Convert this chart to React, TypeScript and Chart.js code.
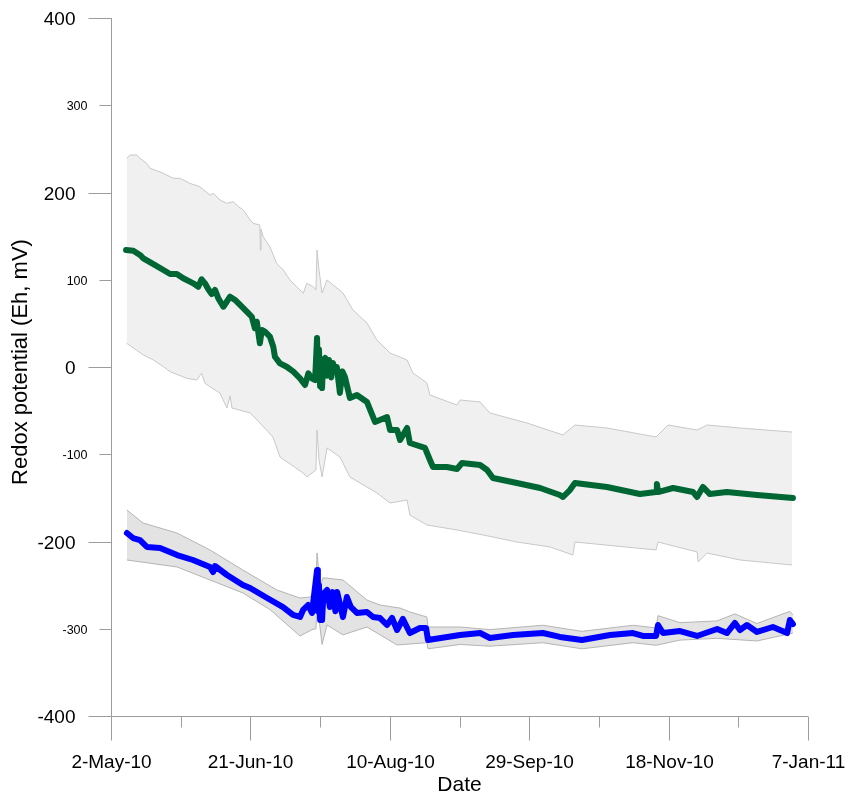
import React, { useEffect, useRef } from "react";
import { Chart, registerables } from "chart.js";

Chart.register(...registerables);

// ---- Axis ticks ----
const xMajorTicks = [0, 50, 100, 150, 200, 250];
const xTickLabels = ["2-May-10", "21-Jun-10", "10-Aug-10", "29-Sep-10", "18-Nov-10", "7-Jan-11"];
const xMinorTicks = [25, 75, 125, 175, 225];
const yMajorTicks = [-400, -200, 0, 200, 400];
const yMinorTicks = [-300, -100, 100, 300];

// ---- Upper station (green) : days since 2-May-10 ----
const greenDays = [5.4, 8.0, 10.4, 11.6, 15.2, 18.8, 21.2, 23.6, 25.9, 28.3, 29.5, 31.3, 32.5, 33.7, 34.9, 36.1, 37.3, 38.5, 40.3, 41.5, 42.7, 44.5, 46.3, 48.7, 50.5, 51.6, 52.3, 53.4, 54.1, 55.2, 57.0, 58.2, 58.8, 60.6, 63.0, 65.4, 67.8, 69.6, 70.8, 72.0, 73.2, 73.9, 74.3, 74.6, 75.0, 75.4, 75.7, 76.1, 76.8, 77.5, 78.2, 79.0, 79.6, 80.3, 81.0, 82.1, 83.0, 83.9, 85.7, 88.2, 91.8, 94.7, 99.0, 100.1, 102.6, 103.7, 106.2, 107.2, 112.6, 114.4, 115.5, 120.5, 124.1, 125.9, 132.4, 134.9, 137.0, 145.6, 153.9, 161.0, 162.1, 164.6, 166.4, 169.3, 177.9, 189.7, 195.5, 195.8, 196.2, 201.6, 208.8, 210.2, 212.3, 214.8, 220.9, 231.7, 244.6];
const greenValues = [134.1, 133.3, 128.4, 124.6, 118.0, 111.2, 106.6, 106.6, 101.7, 97.8, 95.9, 92.0, 100.5, 95.9, 89.1, 83.7, 88.3, 78.7, 69.1, 74.8, 80.6, 76.8, 71.1, 63.4, 57.6, 44.4, 51.9, 27.2, 42.4, 40.5, 34.7, 23.3, 11.8, 4.2, 0.3, -5.4, -13.0, -20.6, -7.2, -13.0, -14.9, 33.2, -15.0, 20.0, -22.0, 5.0, -24.1, 8.0, 10.3, -10.0, 8.0, -12.0, 4.6, -5.0, 0.0, -29.8, -5.0, -11.5, -35.5, -32.1, -40.1, -63.0, -57.3, -72.2, -72.2, -83.7, -69.9, -87.1, -92.8, -106.6, -114.6, -114.6, -116.9, -110.0, -112.3, -118.0, -127.2, -132.9, -138.7, -146.7, -149.0, -141.0, -132.9, -134.1, -137.5, -145.6, -143.3, -134.1, -143.3, -138.7, -143.3, -149.0, -137.5, -145.6, -143.3, -146.7, -150.1];

const greenUpperDays = [5.6, 6.8, 9.2, 10.4, 12.8, 14.0, 18.8, 22.3, 24.7, 28.3, 31.9, 35.5, 36.7, 39.1, 41.5, 43.9, 45.7, 47.5, 49.9, 51.0, 53.4, 53.6, 53.8, 54.6, 57.0, 59.4, 61.8, 64.2, 66.6, 69.0, 70.2, 72.6, 73.5, 73.9, 74.6, 75.7, 77.5, 83.2, 86.8, 91.8, 95.4, 100.1, 106.2, 108.3, 113.3, 114.4, 124.1, 125.2, 132.4, 135.9, 149.2, 162.1, 166.4, 177.9, 195.5, 199.8, 210.2, 213.8, 225.6, 244.3];
const greenUpperValues = [239.2, 243.0, 243.0, 239.2, 233.4, 227.7, 222.0, 216.3, 216.3, 210.5, 206.6, 197.1, 199.1, 191.4, 187.6, 189.5, 183.7, 179.9, 168.5, 164.7, 162.7, 134.0, 158.0, 149.3, 137.9, 118.9, 111.2, 99.7, 92.0, 84.5, 95.9, 92.0, 88.3, 134.1, 111.2, 84.8, 99.7, 84.8, 65.3, 50.4, 30.9, 16.0, 8.0, -6.9, -18.3, -32.1, -43.6, -37.8, -40.1, -52.7, -64.2, -77.9, -66.5, -69.9, -80.2, -66.5, -72.2, -66.5, -69.9, -74.5];

const greenLowerDays = [5.6, 11.6, 15.2, 18.8, 21.2, 27.2, 30.7, 32.5, 33.7, 35.5, 39.1, 41.6, 42.7, 43.4, 49.9, 52.4, 58.1, 60.6, 68.9, 70.3, 73.5, 73.9, 74.6, 75.7, 77.5, 82.1, 85.7, 95.4, 100.1, 106.2, 107.2, 113.3, 124.1, 133.4, 145.6, 157.5, 165.7, 166.4, 195.5, 196.2, 210.2, 210.6, 213.8, 225.6, 244.3];
const greenLowerValues = [27.2, 13.8, 8.0, 0.3, -5.4, -13.0, -14.9, -7.2, -18.7, -22.6, -30.1, -47.0, -33.2, -47.0, -52.7, -60.7, -80.2, -103.1, -121.5, -126.1, -118.0, -72.2, -106.6, -126.1, -92.8, -103.1, -126.1, -144.4, -155.9, -152.4, -169.6, -181.1, -186.8, -192.5, -200.6, -206.3, -215.5, -200.6, -209.7, -200.6, -212.0, -223.5, -213.2, -221.2, -226.9];

// ---- Lower station (blue) ----
const blueDays = [5.7, 7.9, 10.4, 12.9, 17.6, 23.7, 29.4, 35.5, 36.6, 37.3, 41.6, 47.3, 49.9, 56.0, 61.7, 65.3, 67.8, 68.9, 70.7, 72.1, 73.9, 74.2, 74.6, 75.0, 75.3, 75.7, 76.2, 77.5, 78.5, 79.5, 80.5, 81.1, 82.0, 83.2, 84.6, 86.0, 88.2, 91.8, 94.0, 96.5, 99.0, 100.8, 102.6, 104.7, 107.2, 110.8, 113.0, 113.7, 125.2, 132.4, 135.9, 144.2, 154.9, 161.0, 168.9, 179.0, 187.2, 190.8, 195.5, 196.2, 198.0, 204.1, 210.2, 217.4, 220.9, 223.8, 225.6, 228.1, 231.7, 237.4, 242.5, 243.5, 244.6];
const blueValues = [-190.3, -196.0, -198.3, -206.3, -207.4, -215.5, -221.2, -229.2, -235.0, -228.1, -238.4, -249.9, -253.3, -264.8, -275.1, -284.2, -286.5, -278.5, -272.8, -281.9, -232.7, -280.0, -250.0, -290.0, -262.0, -290.0, -260.0, -255.6, -275.0, -258.0, -280.0, -257.9, -270.0, -286.5, -263.6, -275.0, -281.9, -280.8, -286.5, -287.7, -295.7, -287.7, -301.4, -288.8, -304.9, -299.1, -299.1, -312.9, -307.2, -304.9, -310.6, -307.2, -304.9, -309.4, -312.9, -307.2, -304.9, -308.3, -308.3, -295.7, -304.9, -302.6, -308.3, -300.3, -304.9, -293.4, -301.4, -295.7, -303.7, -298.0, -304.9, -290.0, -294.6];

const blueUpperDays = [5.7, 11.5, 23.7, 35.5, 47.3, 59.5, 67.8, 71.4, 73.5, 73.9, 75.0, 76.1, 83.2, 91.8, 96.5, 103.7, 107.2, 113.3, 113.7, 125.2, 135.9, 154.9, 168.9, 187.2, 195.5, 196.2, 204.1, 217.4, 223.8, 231.7, 243.5, 244.6];
const blueUpperValues = [-163.9, -178.8, -190.3, -209.7, -232.7, -255.6, -264.8, -263.6, -255.6, -213.2, -250.7, -241.5, -244.1, -267.1, -272.8, -276.3, -280.8, -286.5, -298.0, -298.0, -301.0, -296.0, -303.0, -296.0, -299.0, -285.0, -293.0, -291.0, -283.0, -294.0, -280.0, -284.0];

const blueLowerDays = [5.7, 23.7, 47.3, 57.0, 67.8, 72.1, 73.5, 73.9, 75.7, 77.5, 83.2, 91.8, 102.6, 113.3, 113.7, 125.2, 135.9, 154.9, 168.9, 187.2, 195.5, 204.1, 217.4, 231.7, 244.6];
const blueLowerValues = [-221.2, -229.2, -259.0, -278.0, -308.3, -301.0, -300.0, -270.0, -318.0, -295.7, -307.0, -298.0, -318.6, -316.0, -323.0, -318.0, -320.0, -316.0, -323.0, -316.0, -319.0, -313.0, -311.0, -314.0, -305.0];

const FONT = "'Liberation Sans', Arial, sans-serif";

function zip(xs: number[], ys: number[]) {
  return xs.map((x, i) => ({ x, y: ys[i] }));
}

const axesPlugin = {
  id: "customAxes",
  afterDraw(chart: any) {
    const { ctx, chartArea } = chart;
    const xs = chart.scales.x;
    const ys = chart.scales.y;
    const axisColor = "#9c9c9c";
    ctx.save();
    ctx.strokeStyle = axisColor;
    ctx.lineWidth = 1;
    const left = Math.round(chartArea.left) + 0.5;
    const bottom = Math.round(chartArea.bottom) + 0.5;
    ctx.beginPath();
    ctx.moveTo(left, ys.getPixelForValue(400));
    ctx.lineTo(left, ys.getPixelForValue(-400));
    ctx.stroke();
    ctx.beginPath();
    ctx.moveTo(left, bottom);
    ctx.lineTo(xs.getPixelForValue(250), bottom);
    ctx.stroke();
    ctx.fillStyle = "#000";
    ctx.textAlign = "right";
    ctx.textBaseline = "middle";
    yMajorTicks.forEach((v) => {
      const py = Math.round(ys.getPixelForValue(v)) + 0.5;
      ctx.beginPath();
      ctx.moveTo(left - 23, py);
      ctx.lineTo(left, py);
      ctx.stroke();
      ctx.font = `19px ${FONT}`;
      ctx.fillText(String(v), left - 36, py + 1);
    });
    yMinorTicks.forEach((v) => {
      const py = Math.round(ys.getPixelForValue(v)) + 0.5;
      ctx.beginPath();
      ctx.moveTo(left - 12, py);
      ctx.lineTo(left, py);
      ctx.stroke();
      ctx.font = `12.5px ${FONT}`;
      ctx.fillText(String(v), left - 24, py + 1);
    });
    ctx.textAlign = "center";
    ctx.textBaseline = "middle";
    ctx.font = `19px ${FONT}`;
    xMajorTicks.forEach((d, i) => {
      const px = Math.round(xs.getPixelForValue(d)) + 0.5;
      ctx.beginPath();
      ctx.moveTo(px, bottom);
      ctx.lineTo(px, bottom + 24);
      ctx.stroke();
      ctx.fillText(xTickLabels[i], px, bottom + 46);
    });
    xMinorTicks.forEach((d) => {
      const px = Math.round(xs.getPixelForValue(d)) + 0.5;
      ctx.beginPath();
      ctx.moveTo(px, bottom);
      ctx.lineTo(px, bottom + 11);
      ctx.stroke();
    });
    ctx.font = `21px ${FONT}`;
    ctx.fillText("Date", (xs.getPixelForValue(0) + xs.getPixelForValue(250)) / 2, bottom + 69);
    ctx.save();
    ctx.translate(21, ys.getPixelForValue(0) - 5);
    ctx.rotate(-Math.PI / 2);
    ctx.font = `22px ${FONT}`;
    ctx.fillText("Redox potential (Eh, mV)", 0, 0);
    ctx.restore();
    ctx.restore();
  },
};

export default function App() {
  const ref = useRef<HTMLCanvasElement | null>(null);
  useEffect(() => {
    document.body.style.margin = "0";
    if (!ref.current) return;
    const bandLine = (color: string) => ({
      pointRadius: 0,
      borderWidth: 1,
      borderColor: color,
      tension: 0,
    });
    const chart = new Chart(ref.current, {
      type: "line",
      data: {
        datasets: [
          {
            label: "Upper mean",
            data: zip(greenDays, greenValues),
            borderColor: "#006633",
            borderWidth: 6,
            pointRadius: 0,
            fill: false,
            borderJoinStyle: "round",
            borderCapStyle: "round",
            order: 0,
          },
          {
            label: "Lower mean",
            data: zip(blueDays, blueValues),
            borderColor: "#0000ff",
            borderWidth: 6,
            pointRadius: 0,
            fill: false,
            borderJoinStyle: "round",
            borderCapStyle: "round",
            order: 1,
          },
          {
            label: "Upper +SD",
            data: zip(greenUpperDays, greenUpperValues),
            ...bandLine("#c8c8c8"),
            backgroundColor: "#f0f0f0",
            fill: "+1",
            order: 5,
          },
          {
            label: "Upper -SD",
            data: zip(greenLowerDays, greenLowerValues),
            ...bandLine("#c8c8c8"),
            fill: false,
            order: 4,
          },
          {
            label: "Lower +SD",
            data: zip(blueUpperDays, blueUpperValues),
            ...bandLine("#b4b4b4"),
            backgroundColor: "#e3e3e3",
            fill: "+1",
            order: 3,
          },
          {
            label: "Lower -SD",
            data: zip(blueLowerDays, blueLowerValues),
            ...bandLine("#b4b4b4"),
            fill: false,
            order: 2,
          },
        ],
      },
      options: {
        animation: false,
        responsive: true,
        maintainAspectRatio: false,
        layout: { padding: { top: 18, right: 39, left: 0, bottom: 0 } },
        plugins: { legend: { display: false }, tooltip: { enabled: false } },
        scales: {
          x: {
            type: "linear",
            min: 0,
            max: 250,
            grid: { display: false },
            border: { display: false },
            ticks: { display: false },
            afterFit: (s: any) => {
              s.height = 81;
            },
          },
          y: {
            type: "linear",
            min: -400,
            max: 400,
            grid: { display: false },
            border: { display: false },
            ticks: { display: false },
            afterFit: (s: any) => {
              s.width = 111;
            },
          },
        },
      },
      plugins: [axesPlugin],
    } as any);
    return () => chart.destroy();
  }, []);
  return (
    <div style={{ position: "absolute", left: 0, top: 0, width: 847, height: 797 }}>
      <canvas ref={ref} />
    </div>
  );
}
